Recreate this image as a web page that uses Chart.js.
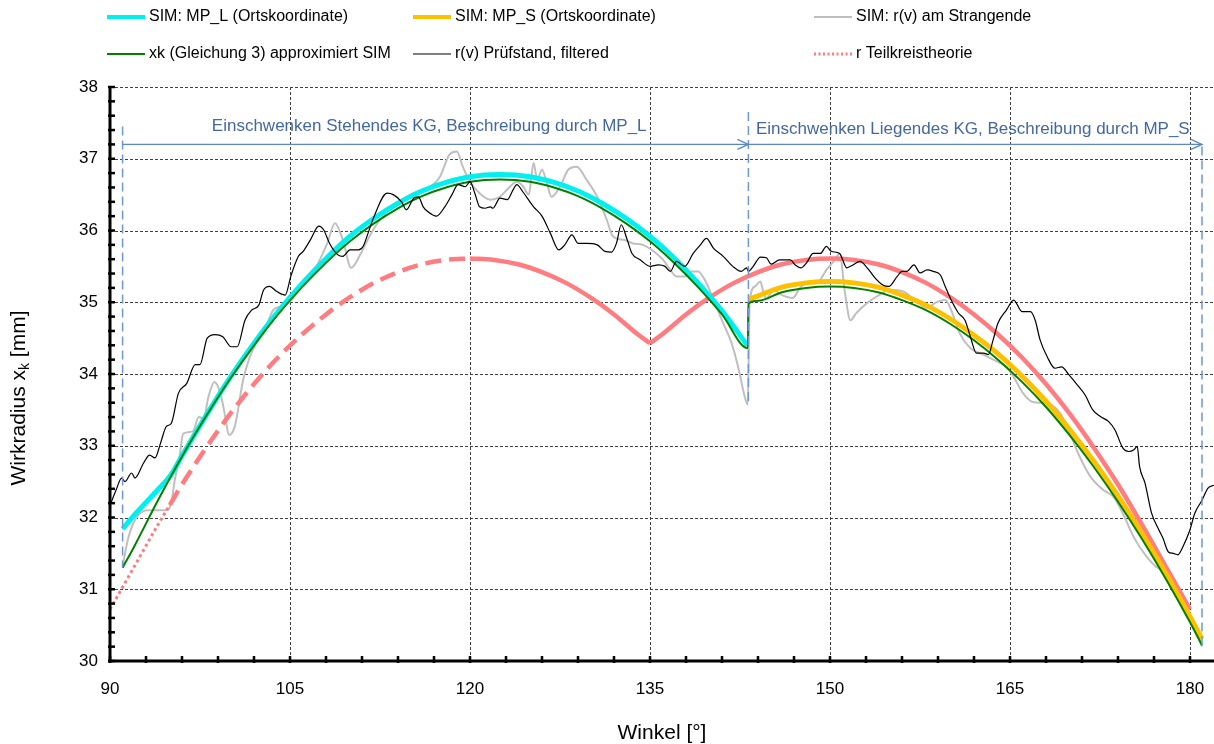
<!DOCTYPE html>
<html><head><meta charset="utf-8">
<script src="https://cdn.jsdelivr.net/npm/chart.js@4.4.1/dist/chart.umd.min.js"></script>
<style>html,body{margin:0;padding:0;background:#fff}#wrap{width:1214px;height:744px;position:relative}</style>
</head><body><div id="wrap"><canvas id="c" width="1214" height="744"></canvas></div>
<script>
// ---------- axis ticks ----------
const xTicks = [90, 105, 120, 135, 150, 165, 180];
const yTicks = [30, 31, 32, 33, 34, 35, 36, 37, 38];

// ---------- series (angle [°], radius [mm]) ----------
const simMPL = [[91.05,31.84],[92,32.03],[93,32.21],[94,32.39],[95.1,32.60],[96,32.86],[98,33.42],[100,33.95],[102,34.43],[104,34.87],[106,35.26],[108,35.61],[110,35.92],[112,36.17],[114,36.38],[116,36.55],[118,36.67],[120,36.75],[122.5,36.78],[125,36.75],[127,36.67],[129,36.55],[131,36.38],[133,36.17],[135,35.92],[137,35.62],[139,35.27],[141,34.88],[143.1,34.40]];

const simMPS = [[143.2,35.04],[144,35.09],[146,35.21],[148,35.27],[150,35.29],[152,35.27],[154,35.21],[156,35.10],[158,34.96],[160,34.77],[162,34.54],[164,34.28],[166,33.97],[168,33.62],[170,33.22],[172,32.78],[174,32.30],[176,31.78],[178,31.22],[180,30.62],[181,30.31]];

const simStrangende = [[91.05,31.32],[91.5,31.70],[92.1,31.97],[93.1,32.10],[94.7,32.10],[95.1,32.20],[95.4,32.52],[95.8,32.85],[96.1,33.17],[96.9,33.20],[97.4,33.40],[97.8,33.38],[98.2,33.68],[98.7,33.89],[99.2,33.73],[99.6,33.41],[99.9,33.15],[100.4,33.27],[101.1,33.92],[101.9,34.34],[102.8,34.57],[103.6,34.89],[104.2,34.94],[105.0,35.01],[106.1,35.27],[107.2,35.50],[108.1,35.82],[108.75,36.10],[109.4,35.87],[110.1,35.48],[110.9,35.68],[111.7,35.94],[112.5,36.15],[113.9,36.38],[115.3,36.52],[116.7,36.61],[117.5,36.75],[118.3,37.06],[118.9,37.10],[119.4,36.89],[120.0,36.68],[120.8,36.52],[121.7,36.43],[122.5,36.47],[123.2,36.59],[123.9,36.68],[124.4,36.62],[124.9,36.50],[125.3,36.94],[125.6,36.71],[126.0,36.85],[126.4,36.66],[126.8,36.47],[127.5,36.61],[128.2,36.85],[128.9,36.89],[129.7,36.71],[130.6,36.47],[131.4,36.15],[131.9,35.92],[132.8,35.87],[133.6,35.82],[134.4,35.80],[135.3,35.71],[136.1,35.59],[136.7,35.45],[137.2,35.36],[137.9,35.36],[138.5,35.43],[139.0,35.43],[139.7,35.27],[140.4,34.99],[141.1,34.71],[141.8,34.43],[142.4,34.06],[142.9,33.68],[143.15,33.57],[143.3,34.99],[143.75,35.22],[144.2,35.29],[144.4,35.17],[144.7,35.05],[145.3,35.17],[146.0,35.10],[146.9,35.06],[147.5,35.20],[148.3,35.29],[149.0,35.29],[149.7,35.45],[150.4,35.59],[150.8,35.68],[151.25,35.13],[151.7,34.75],[152.2,34.85],[153.1,34.99],[153.9,35.08],[155.0,35.17],[156.1,35.15],[157.2,35.01],[158.1,34.92],[158.75,34.99],[159.6,35.03],[160.1,34.89],[160.8,34.57],[161.7,34.36],[162.5,34.29],[163.6,34.20],[164.7,34.10],[165.3,33.96],[166.1,33.73],[166.9,33.61],[168.1,33.59],[169.2,33.45],[170.0,33.17],[170.8,32.85],[171.7,32.57],[172.8,32.38],[173.6,32.29],[174.4,32.06],[175.3,31.73],[176.4,31.45],[177.2,31.31],[178.1,31.22],[179.0,30.95],[180.0,30.62],[181.0,30.20]];

const xkGleichung3 = [[91.05,31.30],[92,31.59],[94,32.24],[96,32.85],[98,33.41],[100,33.93],[102,34.40],[104,34.83],[106,35.21],[108,35.55],[110,35.85],[112,36.10],[114,36.31],[116,36.48],[118,36.60],[120,36.68],[122.5,36.71],[125,36.68],[127,36.60],[129,36.48],[131,36.31],[133,36.10],[135,35.85],[137,35.55],[139,35.21],[141,34.83],[143.15,34.36],[143.2,34.98],[144,35.02],[146,35.14],[148,35.20],[150,35.22],[152,35.20],[154,35.14],[156,35.03],[158,34.89],[160,34.70],[162,34.47],[164,34.20],[166,33.89],[168,33.54],[170,33.14],[172,32.70],[174,32.22],[176,31.70],[178,31.14],[180,30.54],[181,30.22]];

const pruefstand = [[90.0,32.17],[90.5,32.38],[90.97,32.55],[91.25,32.50],[91.8,32.62],[92.08,32.55],[92.8,32.76],[93.3,32.87],[93.75,32.83],[94.2,33.03],[94.7,33.27],[95.1,33.31],[95.7,33.73],[96.4,33.87],[97.1,34.13],[97.5,34.13],[98.1,34.50],[98.75,34.55],[99.4,34.52],[100.1,34.38],[100.6,34.38],[101.25,34.75],[101.8,34.89],[102.4,34.96],[102.8,35.17],[103.3,35.22],[103.9,35.15],[104.6,35.10],[105.1,35.38],[105.7,35.64],[106.1,35.71],[106.7,35.87],[107.4,36.06],[107.8,36.01],[108.3,35.82],[109.0,35.66],[109.4,35.64],[110.0,35.73],[110.7,35.73],[111.1,35.78],[111.5,35.96],[111.9,36.15],[113.1,36.52],[113.6,36.50],[114.3,36.40],[114.7,36.29],[115.3,36.45],[115.7,36.47],[116.1,36.33],[116.5,36.26],[117.2,36.20],[117.9,36.33],[118.5,36.50],[119.0,36.64],[119.6,36.61],[120.0,36.68],[120.4,36.52],[120.8,36.33],[121.25,36.31],[121.7,36.33],[121.9,36.31],[122.5,36.45],[123.1,36.43],[123.6,36.57],[123.9,36.64],[124.4,36.54],[125.3,36.33],[126.0,36.20],[126.7,35.96],[127.4,35.73],[127.9,35.80],[128.5,35.94],[129.0,35.82],[129.7,35.82],[130.6,35.80],[131.25,35.71],[131.8,35.70],[132.2,35.82],[132.6,36.08],[133.1,35.87],[133.5,35.68],[134.2,35.59],[135.0,35.50],[135.7,35.52],[136.25,35.50],[136.7,35.43],[137.2,35.57],[137.9,35.50],[138.6,35.68],[139.2,35.80],[139.7,35.89],[140.3,35.75],[141.1,35.64],[141.9,35.50],[142.6,35.43],[143.05,35.48],[143.2,35.43],[143.6,35.50],[144.2,35.63],[144.7,35.62],[145.1,35.53],[145.8,35.59],[146.7,35.59],[147.1,35.52],[147.6,35.48],[148.05,35.55],[148.6,35.68],[149.2,35.68],[149.7,35.78],[150.1,35.71],[150.8,35.68],[151.4,35.48],[151.9,35.52],[152.5,35.57],[153.1,35.48],[153.75,35.34],[154.4,35.24],[154.9,35.22],[155.6,35.36],[156.0,35.43],[156.4,35.43],[157.0,35.52],[157.5,35.41],[158.1,35.45],[158.6,35.43],[159.2,35.38],[159.6,35.22],[160.1,35.03],[160.7,34.85],[161.25,34.75],[161.7,34.52],[162.2,34.29],[162.8,34.29],[163.2,34.27],[163.6,34.48],[164.0,34.71],[164.7,34.89],[165.3,35.03],[166.0,34.87],[166.7,34.87],[167.1,34.75],[167.5,34.48],[168.1,34.24],[168.75,34.08],[169.3,34.10],[169.9,33.99],[170.6,33.85],[171.25,33.71],[171.9,33.50],[172.5,33.41],[173.2,33.34],[173.75,33.22],[174.4,32.97],[174.9,32.92],[175.3,32.94],[175.6,32.99],[175.8,32.71],[176.25,32.48],[176.8,32.06],[177.4,31.83],[177.75,31.71],[178.2,31.52],[178.6,31.50],[179.0,31.48],[179.4,31.59],[180.0,31.83],[180.4,32.06],[181.0,32.24],[181.5,32.41],[182.0,32.45]];

const teilkreis = [[90,30.72],[92,31.31],[94,31.90],[95,32.18],[96,32.46],[98,32.97],[100,33.44],[102,33.86],[104,34.23],[106,34.55],[108,34.83],[110,35.07],[112,35.27],[114,35.42],[116,35.53],[118,35.59],[120,35.61],[122,35.59],[124,35.53],[126,35.42],[128,35.27],[130,35.07],[132,34.83],[134,34.55],[135,34.43],[136,34.55],[138,34.83],[140,35.07],[142,35.27],[144,35.42],[146,35.53],[148,35.59],[150,35.61],[152,35.59],[154,35.53],[156,35.42],[158,35.27],[160,35.07],[162,34.83],[164,34.55],[166,34.23],[168,33.86],[170,33.44],[172,32.97],[174,32.46],[176,31.90],[178,31.31],[180,30.72]];
const teilkreisDottedUntil = 95;   // dotted part of the theory curve
const teilkreisDashedUntil = 120;  // dashed part, solid afterwards
const teilkreisCusp = 135;

// ---------- annotations (data units) ----------
const phaseMarkers = [91.05, 143.2, 181.0];
const phaseMarkerTop = [37.45, 37.65, 37.17];
const phaseMarkerBottom = [31.31, 33.57, 30.2];
const arrowLevel = 37.2;
const phaseLabels = ['Einschwenken Stehendes KG, Beschreibung durch MP_L', 'Einschwenken Liegendes KG, Beschreibung durch MP_S'];
const phaseLabelAt = [[116.6, 37.45], [161.9, 37.41]];

const FONT = "'Liberation Sans', Arial, Helvetica, sans-serif";
const pts = a => a.map(p => ({x: p[0], y: p[1]}));
const SALMON = '#FF7C80';
const smooth = {cubicInterpolationMode: 'monotone'};

const datasets = [
  {label: 'SIM: MP_L (Ortskoordinate)', data: pts(simMPL), borderColor: '#00F0F0', borderWidth: 5, order: 3, ...smooth},
  {label: 'SIM: MP_S (Ortskoordinate)', data: pts(simMPS), borderColor: '#FFC000', borderWidth: 5, order: 2, ...smooth},
  {label: 'SIM: r(v) am Strangende', data: pts(simStrangende), borderColor: '#BFBFBF', borderWidth: 2, order: 6, ...smooth},
  {label: 'xk (Gleichung 3) approximiert SIM', data: pts(xkGleichung3), borderColor: '#008000', borderWidth: 2, order: 1, ...smooth},
  {label: 'r(v) Prüfstand, filtered', data: pts(pruefstand), borderColor: '#000000', borderWidth: 1.2, order: 0, ...smooth},
  {label: 'r Teilkreistheorie', data: pts(teilkreis.filter(p => p[0] <= teilkreisDottedUntil)), borderColor: SALMON, borderWidth: 3, borderDash: [3, 3], order: 5, ...smooth},
  {label: 'r Teilkreistheorie (dashed)', data: pts(teilkreis.filter(p => p[0] >= teilkreisDottedUntil && p[0] <= teilkreisDashedUntil)), borderColor: SALMON, borderWidth: 4.5, borderDash: [16, 8], order: 5, ...smooth},
  {label: 'r Teilkreistheorie (solid a)', data: pts(teilkreis.filter(p => p[0] >= teilkreisDashedUntil && p[0] <= teilkreisCusp)), borderColor: SALMON, borderWidth: 4.5, order: 4, ...smooth},
  {label: 'r Teilkreistheorie (solid b)', data: pts(teilkreis.filter(p => p[0] >= teilkreisCusp)), borderColor: SALMON, borderWidth: 4.5, order: 4, ...smooth}
];
const legendItems = [0, 1, 2, 3, 4, 5];
const legendCols = [107, 413, 814];
const legendRows = [17, 54];

function seg(ctx, x1, y1, x2, y2) { ctx.beginPath(); ctx.moveTo(x1, y1); ctx.lineTo(x2, y2); ctx.stroke(); }

const deco = {
  id: 'deco',
  beforeDatasetsDraw(chart) {
    const {ctx, chartArea: a, scales: {x, y}} = chart;
    ctx.save();
    ctx.strokeStyle = '#404040'; ctx.lineWidth = 1; ctx.setLineDash([3, 2]);
    xTicks.forEach(v => { if (v === xTicks[0]) return; const px = Math.round(x.getPixelForValue(v)) + 0.5; seg(ctx, px, a.top, px, a.bottom); });
    yTicks.forEach(v => { if (v === yTicks[0]) return; const py = Math.round(y.getPixelForValue(v)) + 0.5; seg(ctx, a.left, py, a.right, py); });
    ctx.restore();
  },
  afterDatasetsDraw(chart) {
    const {ctx, chartArea: a, scales: {x, y}} = chart;
    ctx.save();
    ctx.strokeStyle = '#6E98D2'; ctx.lineWidth = 1.5; ctx.setLineDash([9, 5]);
    phaseMarkers.forEach((v, i) => {
      const px = x.getPixelForValue(v);
      seg(ctx, px, y.getPixelForValue(phaseMarkerTop[i]), px, y.getPixelForValue(phaseMarkerBottom[i]));
    });
    ctx.setLineDash([]);
    ctx.strokeStyle = '#5B87C5'; ctx.lineWidth = 1.3;
    const ay = y.getPixelForValue(arrowLevel);
    for (let i = 0; i < phaseMarkers.length - 1; i++) {
      const x1 = x.getPixelForValue(phaseMarkers[i]), x2 = x.getPixelForValue(phaseMarkers[i + 1]);
      seg(ctx, x1, ay, x2, ay);
      ctx.beginPath(); ctx.moveTo(x2 - 11, ay - 5); ctx.lineTo(x2, ay); ctx.lineTo(x2 - 11, ay + 5); ctx.stroke();
    }
    ctx.fillStyle = '#44689E'; ctx.font = '17px ' + FONT; ctx.textAlign = 'center'; ctx.textBaseline = 'middle';
    phaseLabels.forEach((t, i) => ctx.fillText(t, x.getPixelForValue(phaseLabelAt[i][0]), y.getPixelForValue(phaseLabelAt[i][1])));
    ctx.strokeStyle = '#000'; ctx.lineWidth = 3;
    seg(ctx, a.left, a.top - 1, a.left, a.bottom + 1.5);
    seg(ctx, a.left - 1.5, a.bottom, a.right, a.bottom);
    ctx.lineWidth = 2.5;
    for (let v = yTicks[0]; v <= yTicks[yTicks.length - 1] + 1e-6; v += 0.2) {
      const py = y.getPixelForValue(v); seg(ctx, a.left - 2, py, a.left + 5, py);
    }
    for (let v = xTicks[0]; v <= xTicks[xTicks.length - 1] + 1e-6; v += 3) {
      const px = x.getPixelForValue(v); seg(ctx, px, a.bottom + 2, px, a.bottom - 5);
    }
    ctx.restore();
  },
  afterDraw(chart) {
    const {ctx, chartArea: a} = chart;
    ctx.save();
    ctx.font = '16px ' + FONT; ctx.textBaseline = 'middle'; ctx.textAlign = 'left'; ctx.fillStyle = '#000';
    legendItems.forEach((di, k) => {
      const ds = chart.data.datasets[di];
      const lx = legendCols[k % 3], ly = legendRows[Math.floor(k / 3)];
      ctx.strokeStyle = ds.borderColor; ctx.lineWidth = Math.max(ds.borderWidth > 3 ? 4 : ds.borderWidth, 1);
      ctx.setLineDash(ds.borderDash ? [2, 2.5] : []);
      seg(ctx, lx, ly, lx + 38, ly);
      ctx.setLineDash([]);
      ctx.fillText(ds.label, lx + 42, ly);
    });
    ctx.font = '21px ' + FONT; ctx.textAlign = 'center';
    ctx.fillText('Winkel [°]', (a.left + a.right) / 2, 733);
    ctx.translate(19, 398); ctx.rotate(-Math.PI / 2);
    const p1 = 'Wirkradius x', sub = 'k', p2 = ' [mm]';
    ctx.font = '21px ' + FONT; const w1 = ctx.measureText(p1).width, w3 = ctx.measureText(p2).width;
    ctx.font = '14px ' + FONT; const w2 = ctx.measureText(sub).width;
    let sx = -(w1 + w2 + w3) / 2;
    ctx.textAlign = 'left';
    ctx.font = '21px ' + FONT; ctx.fillText(p1, sx, 0); sx += w1;
    ctx.font = '14px ' + FONT; ctx.fillText(sub, sx, 6); sx += w2;
    ctx.font = '21px ' + FONT; ctx.fillText(p2, sx, 0);
    ctx.restore();
  }
};

new Chart(document.getElementById('c'), {
  type: 'line',
  data: {datasets},
  options: {
    responsive: false, animation: false, devicePixelRatio: 1,
    layout: {padding: {top: 87, left: 0, right: 0, bottom: 0}},
    elements: {point: {radius: 0}, line: {tension: 0, borderCapStyle: 'butt', borderJoinStyle: 'round'}},
    plugins: {legend: {display: false}, tooltip: {enabled: false}},
    scales: {
      x: {type: 'linear', min: 90, max: 182,
        afterBuildTicks: s => { s.ticks = xTicks.map(v => ({value: v})); },
        afterFit: s => { s.height = 83; s.paddingLeft = 0; s.paddingRight = 0; },
        grid: {display: false, drawTicks: false}, border: {display: false},
        ticks: {font: {family: FONT, size: 17}, color: '#000', padding: 18, maxRotation: 0}},
      y: {type: 'linear', min: 30, max: 38,
        afterBuildTicks: s => { s.ticks = yTicks.map(v => ({value: v})); },
        afterFit: s => { s.width = 110; s.paddingTop = 0; s.paddingBottom = 0; },
        grid: {display: false, drawTicks: false}, border: {display: false},
        ticks: {font: {family: FONT, size: 17}, color: '#000', padding: 12}}
    }
  },
  plugins: [deco]
});
</script></body></html>
